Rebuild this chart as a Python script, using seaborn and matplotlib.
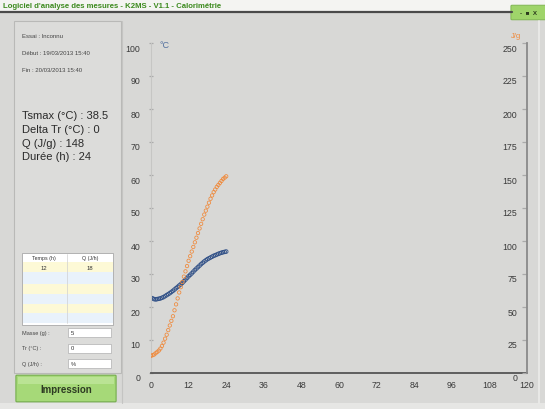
import matplotlib
matplotlib.use('Agg')
import matplotlib.pyplot as plt
import matplotlib.transforms as mtransforms
from matplotlib.patches import Rectangle, FancyBboxPatch
import seaborn as sns
import pandas as pd

# ---------------- data ----------------
hours = [0, 0.5, 1, 1.5, 2, 2.5, 3, 3.5, 4, 4.5, 5, 5.5, 6, 6.5, 7, 7.5, 8, 8.5,
         9, 9.5, 10, 10.5, 11, 11.5, 12, 12.5, 13, 13.5, 14, 14.5, 15, 15.5,
         16, 16.5, 17, 17.5, 18, 18.5, 19, 19.5, 20, 20.5, 21, 21.5, 22, 22.5,
         23, 23.5, 24]
temp_c = [22.8, 22.6, 22.4, 22.3, 22.4, 22.5, 22.6, 22.8, 23.0, 23.3, 23.6, 23.9,
          24.2, 24.55, 24.9, 25.3, 25.7, 26.1, 26.5, 26.9, 27.3, 27.8, 28.3, 28.8,
          29.3, 29.75, 30.2, 30.7, 31.2, 31.65, 32.1, 32.55, 33.0, 33.4, 33.8,
          34.15, 34.5, 34.75, 35.0, 35.25, 35.5, 35.7, 35.9, 36.1, 36.3, 36.45,
          36.6, 36.7, 36.8]
heat_jg = [13, 13.5, 14, 15, 16, 17, 18.5, 20.5, 23, 26, 29, 32.5, 36, 39.5, 43,
           47.5, 52, 56.5, 61, 65, 69, 73, 77, 81, 85, 88.5, 92, 95.5, 99, 102.5,
           106, 109.5, 113, 116.5, 120, 123, 126, 129, 132, 134.5, 137, 139, 141,
           142.5, 144, 145.5, 147, 148, 149]

x_ticks = [0, 12, 24, 36, 48, 60, 72, 84, 96, 108, 120]
x_tick_labels = ["0", "12", "24", "36", "48", "60", "72", "84", "96", "108", "120"]
y_left_ticks = [0, 10, 20, 30, 40, 50, 60, 70, 80, 90, 100]
y_right_ticks = [0, 25, 50, 75, 100, 125, 150, 175, 200, 225, 250]

title_text = "Logiciel d'analyse des mesures - K2MS - V1.1 - Calorimétrie"
info_small = ["Essai : Inconnu", "Début : 19/03/2013 15:40", "Fin : 20/03/2013 15:40"]
info_big = ["Tsmax (°C) : 38.5", "Delta Tr (°C) : 0", "Q (J/g) : 148", "Durée (h) : 24"]
table_header = ["Temps (h)", "Q (J/h)"]
table_row = ["12", "18"]
input_labels = ["Masse (g) :", "Tr (°C) :", "Q (J/h) :"]
input_values = ["5", "0", "%"]
button_text = "Impression"

df = pd.DataFrame({"t": hours, "T": temp_c, "Q": heat_jg})

# ---------------- figure ----------------
sns.set_theme(style="white")
plt.rcParams['font.family'] = ['Liberation Sans', 'DejaVu Sans']

W, H = 545, 410
BG = '#d8d8d6'
fig = plt.figure(figsize=(W / 100, H / 100), dpi=100, facecolor=BG)


def fx(px):
    return px / W


def fy(py):
    return 1 - py / H


def frect(x0, y0, x1, y1, **kw):
    r = Rectangle((fx(x0), fy(y1)), fx(x1) - fx(x0), fy(y0) - fy(y1),
                  transform=fig.transFigure, **kw)
    fig.patches.append(r)
    return r


# title bar
frect(0, 0, 545, 12, facecolor='#f4f4f2', edgecolor='none')
fig.lines.append(plt.Line2D([0, fx(512)], [fy(12.5), fy(12.5)], transform=fig.transFigure,
                            color='#4a4a4a', lw=1.6))
fig.text(fx(3), fy(6.5), title_text, fontsize=5.6, color='#3c8a1e', weight='bold',
         va='center', ha='left')
tab = FancyBboxPatch((fx(512), fy(20)), fx(545) - fx(512), fy(7) - fy(20),
                     boxstyle='round,pad=0.002', transform=fig.transFigure,
                     facecolor='#9fd46a', edgecolor='#78b04a', lw=0.6)
fig.patches.append(tab)
fig.text(fx(528), fy(13.5), "-  ■  X", fontsize=4.5, color='#2b3a1c', weight='bold',
         va='center', ha='center')

# bottom strip
frect(0, 404, 545, 410, facecolor='#e6e6e4', edgecolor='none')
# right light border
fig.lines.append(plt.Line2D([fx(539), fx(539)], [fy(22), fy(404)], transform=fig.transFigure,
                            color='#ececea', lw=1.2))

# left panel
frect(14, 22, 121, 374, facecolor='#dcdcda', edgecolor='#b9b9b7', lw=0.8)
for i, s in enumerate(info_small):
    fig.text(fx(22), fy(37 + 16.5 * i), s, fontsize=4.3, color='#444444', va='center')
for i, s in enumerate(info_big):
    fig.text(fx(22), fy(116 + 13.8 * i), s, fontsize=8, color='#2a2a2a', va='center')

# table
frect(22, 254, 113, 326, facecolor='white', edgecolor='#a8a8a8', lw=0.6)
row_bounds = [(263, 273, '#fdf9d6'), (273, 285, '#e9f2fb'), (285, 295, '#fdf9d6'),
              (295, 305, '#e9f2fb'), (305, 314, '#fdf9d6'), (314, 324, '#e9f2fb')]
for y0, y1, c in row_bounds:
    frect(22.5, y0, 112.5, y1, facecolor=c, edgecolor='none')
fig.lines.append(plt.Line2D([fx(67), fx(67)], [fy(255), fy(324)], transform=fig.transFigure,
                            color='#d0d0d0', lw=0.5))
fig.text(fx(44), fy(258.5), table_header[0], fontsize=3.8, color='#333', ha='center', va='center')
fig.text(fx(90), fy(258.5), table_header[1], fontsize=3.8, color='#333', ha='center', va='center')
fig.text(fx(44), fy(268), table_row[0], fontsize=4.2, color='#333', ha='center', va='center')
fig.text(fx(90), fy(268), table_row[1], fontsize=4.2, color='#333', ha='center', va='center')

# inputs
for i, (lab, val) in enumerate(zip(input_labels, input_values)):
    yc = 333.5 + 15.5 * i
    fig.text(fx(22), fy(yc), lab, fontsize=4.0, color='#444', va='center')
    frect(68, yc - 4.5, 111, yc + 4.5, facecolor='white', edgecolor='#b0b0b0', lw=0.5)
    fig.text(fx(71), fy(yc), val, fontsize=4.2, color='#333', va='center')

# button
btn = FancyBboxPatch((fx(17), fy(402)), fx(115) - fx(17), fy(377) - fy(402),
                     boxstyle='round,pad=0.002', transform=fig.transFigure,
                     facecolor='#a6d978', edgecolor='#74ad4c', lw=0.8)
fig.patches.append(btn)
frect(18, 378, 114, 385, facecolor='#c3e8a0', edgecolor='none', alpha=0.7)
fig.text(fx(66), fy(390), button_text, fontsize=7, weight='bold', color='#2d3a22',
         ha='center', va='center')

# chart panel separator
fig.lines.append(plt.Line2D([fx(122), fx(122)], [fy(22), fy(404)], transform=fig.transFigure,
                            color='#c4c4c2', lw=0.8))

# ---------------- axes ----------------
ax = fig.add_axes([fx(151), fy(374), fx(527) - fx(151), fy(44) - fy(374)])
ax.set_facecolor('none')
ax2 = ax.twinx()
ax2.set_facecolor('none')

BLUE = '#2f4f86'
ORANGE = '#f08838'

sns.scatterplot(data=df, x='t', y='T', ax=ax, color=BLUE, s=7, marker='o',
                linewidth=0.6, legend=False)
sns.scatterplot(data=df, x='t', y='Q', ax=ax2, color=ORANGE, s=6, marker='o',
                linewidth=0.55, legend=False)
for coll, c in ((ax.collections[-1], BLUE), (ax2.collections[-1], ORANGE)):
    coll.set_facecolor('none')
    coll.set_edgecolor(c)

ax.set_xlim(0, 120)
ax.set_ylim(0, 100)
ax2.set_ylim(0, 250)
ax.set_xlabel('')
ax.set_ylabel('')
ax2.set_ylabel('')

ax.set_xticks(x_ticks)
ax.set_xticklabels(x_tick_labels)
ax.set_yticks(y_left_ticks)
ax2.set_yticks(y_right_ticks)

tick_font = dict(labelsize=6.3, labelcolor='#3a3a3a')
ax.tick_params(axis='x', direction='inout', length=4, width=0.9, color='#444', pad=3, **tick_font)
ax.tick_params(axis='y', direction='inout', length=3.5, width=0.9, color='#aaaaaa', pad=6, **tick_font)
ax2.tick_params(axis='y', direction='in', length=3.5, width=0.9, color='#aaaaaa', pad=-7, **tick_font)

for v, t in zip(y_left_ticks, ax.yaxis.get_major_ticks()):
    if v in (10, 40, 70, 100):
        t.tick1line.set_color('#333333')
for v, t in zip(y_right_ticks, ax2.yaxis.get_major_ticks()):
    if v in (25, 100, 175, 250):
        t.tick2line.set_color('#333333')

off = mtransforms.ScaledTranslation(0, -4 / 100, fig.dpi_scale_trans)
for lbl in ax.get_yticklabels():
    lbl.set_transform(lbl.get_transform() + off)
for lbl in ax2.get_yticklabels():
    lbl.set_horizontalalignment('right')
    lbl.set_transform(lbl.get_transform() + off)

for a in (ax, ax2):
    a.spines['top'].set_visible(False)
    a.grid(False)
ax.spines['left'].set_color('#c6c6c4')
ax.spines['left'].set_linewidth(0.8)
ax.spines['bottom'].set_color('#555555')
ax.spines['bottom'].set_linewidth(1.3)
ax.spines['right'].set_visible(False)
ax2.spines['left'].set_visible(False)
ax2.spines['bottom'].set_visible(False)
ax2.spines['right'].set_color('#8a8a8a')
ax2.spines['right'].set_linewidth(1.3)

fig.text(fx(160), fy(46), "°C", fontsize=6.5, color='#52709e', va='center')
fig.text(fx(516), fy(37), "J/g", fontsize=5.5, color=ORANGE, va='center', ha='center')

fig.savefig('out.png', dpi=100, facecolor=BG)
